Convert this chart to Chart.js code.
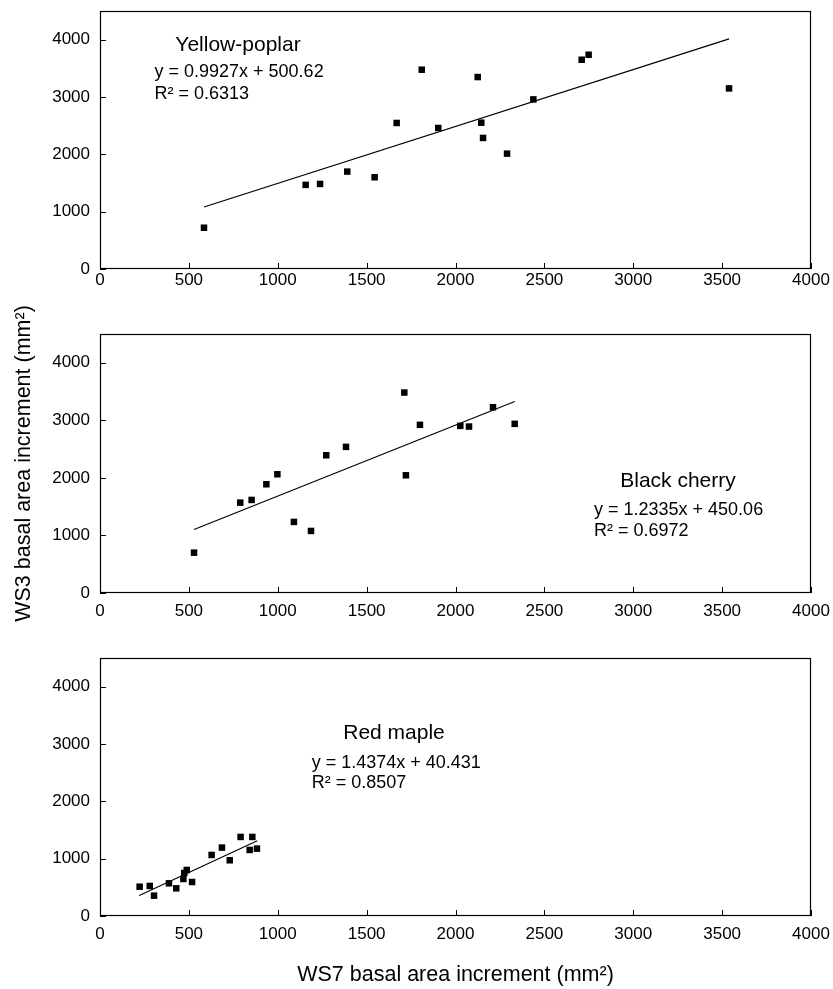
<!DOCTYPE html>
<html>
<head>
<meta charset="utf-8">
<script src="https://cdn.jsdelivr.net/npm/chart.js@4.4.1/dist/chart.umd.min.js"></script>
<style>
  html, body { margin: 0; padding: 0; background: #fff; }
  #wrap { position: relative; width: 833px; height: 989px; overflow: hidden; }
  canvas { position: absolute; left: 0; }
</style>
</head>
<body>
<div id="wrap">
  <canvas id="c1" width="833" height="322" style="top:0px"></canvas>
  <canvas id="c2" width="833" height="356" style="top:290px"></canvas>
  <canvas id="c3" width="833" height="343" style="top:646px"></canvas>
</div>
<script>
// ---- tick labels ----
const xTickValues = [0, 500, 1000, 1500, 2000, 2500, 3000, 3500, 4000];
const yTickValues = [0, 1000, 2000, 3000, 4000];

// ---- Yellow-poplar ----
const poplarX = [585, 1157, 1238, 1391, 1545, 1669, 1810, 1903, 2125, 2145, 2155, 2290, 2438, 2710, 2749, 3539];
const poplarY = [720, 1467, 1484, 1699, 1600, 2547, 3476, 2460, 3348, 2552, 2286, 2012, 2958, 3650, 3737, 3150];
const poplarTrendX = [585, 3539];
const poplarTrendY = [1081, 4014];

// ---- Black cherry ----
const cherryX = [529, 789, 853, 936, 998, 1091, 1187, 1273, 1384, 1712, 1721, 1800, 2027, 2076, 2211, 2333];
const cherryY = [701, 1570, 1617, 1889, 2063, 1235, 1078, 2393, 2539, 3483, 2045, 2922, 2904, 2892, 3228, 2939];
const cherryTrendX = [529, 2333];
const cherryTrendY = [1103, 3328];

// ---- Red maple ----
const mapleX = [223, 280, 304, 388, 429, 469, 474, 488, 518, 628, 686, 730, 791, 857, 842, 883];
const mapleY = [511, 524, 355, 570, 483, 646, 750, 803, 593, 1065, 1193, 972, 1379, 1379, 1152, 1175];
const mapleTrendX = [221, 885];
const mapleTrendY = [358, 1313];

// ---- texts ----
const poplarLabels = ['Yellow-poplar', 'y = 0.9927x + 500.62', 'R\u00B2 = 0.6313'];
const cherryLabels = ['Black cherry', 'y = 1.2335x + 450.06', 'R\u00B2 = 0.6972'];
const mapleLabels  = ['Red maple', 'y = 1.4374x + 40.431', 'R\u00B2 = 0.8507'];

const FONT = '"Liberation Sans", Arial, Helvetica, sans-serif';
const INK = '#000';

function pts(xs, ys) { return xs.map((x, i) => ({ x: x, y: ys[i] })); }

function noPad(s) {
  s.paddingTop = 0; s.paddingBottom = 0; s.paddingLeft = 0; s.paddingRight = 0;
}

const framePlugin = {
  id: 'frame',
  afterDraw(chart) {
    const ctx = chart.ctx;
    const a = chart.chartArea;
    const xs = chart.scales.x, ys = chart.scales.y;
    ctx.save();
    ctx.strokeStyle = INK;
    ctx.lineWidth = 1.2;
    ctx.strokeRect(a.left + 0.5, a.top + 0.5, a.right - a.left - 1, a.bottom - a.top - 1);
    ctx.lineWidth = 1;
    ctx.beginPath();
    xs.ticks.forEach(t => {
      const px = Math.round(xs.getPixelForValue(t.value)) + 0.5;
      ctx.moveTo(px, a.bottom);
      ctx.lineTo(px, a.bottom - 6);
    });
    ys.ticks.forEach(t => {
      const py = Math.round(ys.getPixelForValue(t.value)) + 0.5;
      ctx.moveTo(a.left, py);
      ctx.lineTo(a.left + 6, py);
    });
    ctx.stroke();
    // annotation texts
    const ann = chart.options.plugins.frame;
    ctx.fillStyle = INK;
    ctx.textBaseline = 'alphabetic';
    ctx.font = '21px ' + FONT;
    ctx.textAlign = 'center';
    ctx.fillText(ann.texts[0], ann.titleX, ann.titleY + 7.5);
    ctx.font = '18px ' + FONT;
    ctx.textAlign = 'left';
    ctx.fillText(ann.texts[1], ann.eqX, ann.eqY + 6.4);
    ctx.fillText(ann.texts[2], ann.eqX, ann.r2Y + 6.4);
    ctx.restore();
  }
};

function makeChart(id, cfg) {
  const ctx = document.getElementById(id).getContext('2d');
  return new Chart(ctx, {
    type: 'scatter',
    data: {
      datasets: [
        {
          data: pts(cfg.xs, cfg.ys),
          pointStyle: 'rect',
          pointRadius: 4.6,
          pointBackgroundColor: INK,
          pointBorderColor: INK,
          pointBorderWidth: 0,
          showLine: false
        },
        {
          data: pts(cfg.tx, cfg.ty),
          showLine: true,
          borderColor: INK,
          borderWidth: 1.2,
          pointRadius: 0,
          fill: false
        }
      ]
    },
    options: {
      responsive: false,
      animation: false,
      devicePixelRatio: 1,
      layout: { padding: { top: cfg.padTop, right: 22, left: 0, bottom: 0 } },
      plugins: {
        legend: { display: false },
        tooltip: { enabled: false },
        frame: cfg.ann
      },
      scales: {
        x: {
          type: 'linear',
          min: 0, max: 4000,
          afterBuildTicks: s => { s.ticks = xTickValues.map(v => ({ value: v })); },
          afterFit: s => { s.height = cfg.xAxisH; noPad(s); },
          grid: { display: false, drawTicks: false },
          border: { display: false },
          ticks: {
            padding: cfg.xPad,
            maxRotation: 0,
            autoSkip: false,
            color: INK,
            font: { family: FONT, size: 17 },
            callback: v => String(v)
          },
          title: cfg.xTitle
        },
        y: {
          type: 'linear',
          min: 0, max: 4500,
          afterBuildTicks: s => { s.ticks = yTickValues.map(v => ({ value: v })); },
          afterFit: s => { s.width = 100; noPad(s); },
          grid: { display: false, drawTicks: false },
          border: { display: false },
          ticks: {
            padding: 10,
            autoSkip: false,
            color: INK,
            font: { family: FONT, size: 17 },
            callback: v => String(v)
          },
          title: cfg.yTitle
        }
      }
    },
    plugins: [framePlugin]
  });
}

makeChart('c1', {
  xs: poplarX, ys: poplarY, tx: poplarTrendX, ty: poplarTrendY,
  padTop: 11, xAxisH: 322 - 11 - 258, xPad: 1,
  ann: { texts: poplarLabels, titleX: 238, titleY: 43, eqX: 154.5, eqY: 71, r2Y: 93 },
  xTitle: { display: false },
  yTitle: { display: false }
});

makeChart('c2', {
  xs: cherryX, ys: cherryY, tx: cherryTrendX, ty: cherryTrendY,
  padTop: 44, xAxisH: 356 - 44 - 259, xPad: 8,
  ann: { texts: cherryLabels, titleX: 678, titleY: 479 - 290, eqX: 594, eqY: 508.7 - 290, r2Y: 529.3 - 290 },
  xTitle: { display: false },
  yTitle: {
    display: true,
    text: 'WS3 basal area increment (mm\u00B2)',
    color: INK,
    font: { family: FONT, size: 21.5 },
    padding: { top: 11, bottom: 0 }
  }
});

makeChart('c3', {
  xs: mapleX, ys: mapleY, tx: mapleTrendX, ty: mapleTrendY,
  padTop: 12, xAxisH: 343 - 12 - 258, xPad: 8,
  ann: { texts: mapleLabels, titleX: 394, titleY: 731.7 - 646, eqX: 311.7, eqY: 762 - 646, r2Y: 782 - 646 },
  xTitle: {
    display: true,
    text: 'WS7 basal area increment (mm\u00B2)',
    color: INK,
    font: { family: FONT, size: 21.5 },
    padding: { top: 0, bottom: 1 }
  },
  yTitle: { display: false }
});
</script>
</body>
</html>
